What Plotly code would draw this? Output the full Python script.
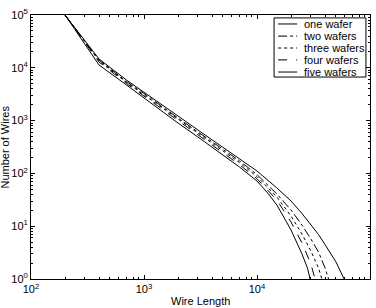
import plotly.graph_objects as go

# ---- data ----
names = ["one wafer", "two wafers", "three wafers", "four wafers", "five wafers"]

x_one = [200, 400, 700, 1000, 2000, 3000, 5000, 7000, 10000, 15000, 20000, 25000, 30000, 35000, 40000, 50000, 59000]
y_one = [100000, 14700, 5870, 3480, 1222, 664, 316, 191, 111, 52.9, 30.0, 17.4, 10.8, 6.97, 4.50, 2.10, 1.0]

x_two = [200, 400, 700, 1000, 2000, 3000, 5000, 7000, 10000, 15000, 20000, 25000, 30000, 35000, 40000, 43000]
y_two = [100000, 14050, 5500, 3260, 1120, 608, 290, 173, 95.0, 40.7, 20.3, 10.5, 5.72, 3.25, 1.62, 1.0]

x_three = [200, 400, 700, 1000, 2000, 3000, 5000, 7000, 10000, 15000, 20000, 25000, 30000, 35000, 37500]
y_three = [100000, 13450, 5270, 3053, 1049, 570, 266, 160, 87.0, 35.7, 15.6, 7.12, 3.39, 1.62, 1.0]

x_four = [200, 400, 700, 1000, 2000, 3000, 5000, 7000, 10000, 15000, 20000, 25000, 30000, 32600]
y_four = [100000, 12880, 5045, 2923, 982, 534, 243, 146, 79.0, 31.3, 12.0, 4.81, 1.92, 1.0]

x_five = [200, 400, 700, 1000, 2000, 3000, 5000, 7000, 10000, 12500, 15000, 20000, 25000, 28000, 29500]
y_five = [100000, 11300, 4722, 2680, 900, 489, 223, 132, 71.8, 42.0, 25.2, 8.47, 2.98, 1.6, 1.0]

x_tickvals = [100, 1000, 10000, 100000]
x_ticktext = ["10<sup>2</sup>", "10<sup>3</sup>", "10<sup>4</sup>", "10<sup>5</sup>"]
y_tickvals = [1, 10, 100, 1000, 10000, 100000]
y_ticktext = ["10<sup>0</sup>", "10<sup>1</sup>", "10<sup>2</sup>", "10<sup>3</sup>", "10<sup>4</sup>", "10<sup>5</sup>"]

# ---- styling ----
dashes = ["solid", "dashdot", "dot", "dash", "solid"]
FONT = "Liberation Sans, Arial, Helvetica, sans-serif"

series = [(x_one, y_one), (x_two, y_two), (x_three, y_three), (x_four, y_four), (x_five, y_five)]

fig = go.Figure()
for (xs, ys), nm, ds in zip(series, names, dashes):
    fig.add_trace(go.Scatter(x=xs, y=ys, mode="lines", name=nm,
                             line=dict(color="black", width=1, dash=ds),
                             showlegend=False))

minor_x = [m * 10 ** k for k in range(2, 5) for m in range(2, 10)]
minor_y = [m * 10 ** k for k in range(0, 5) for m in range(2, 10)]

axis_common = dict(showline=True, linecolor="black", linewidth=1, mirror="ticks",
                   ticks="inside", ticklen=4, tickcolor="black", tickwidth=1,
                   showgrid=False, zeroline=False,
                   tickfont=dict(family=FONT, size=11, color="black"))

fig.update_xaxes(type="log", range=[2, 5], tickmode="array", tickvals=x_tickvals,
                 ticktext=x_ticktext,
                 minor=dict(tickmode="array", tickvals=minor_x, ticks="inside", ticklen=2,
                            tickcolor="black", showgrid=False),
                 **axis_common)
fig.update_yaxes(type="log", range=[0, 5], tickmode="array", tickvals=y_tickvals,
                 ticktext=y_ticktext,
                 minor=dict(tickmode="array", tickvals=minor_y, ticks="inside", ticklen=2,
                            tickcolor="black", showgrid=False),
                 **axis_common)

# custom compact legend (MATLAB style)
lx0, lx1, ly0, ly1 = 0.717, 0.988, 0.765, 0.989
shapes = [dict(type="rect", xref="paper", yref="paper", x0=lx0, x1=lx1, y0=ly0, y1=ly1,
               line=dict(color="black", width=1), fillcolor="white", layer="above")]
annotations = []
row_y = [0.966, 0.920, 0.875, 0.830, 0.784]
for nm, ds, ry in zip(names, dashes, row_y):
    shapes.append(dict(type="line", xref="paper", yref="paper", x0=0.729, x1=0.785, y0=ry, y1=ry,
                       line=dict(color="black", width=1, dash=ds), layer="above"))
    annotations.append(dict(xref="paper", yref="paper", x=0.800, y=ry, text=nm, showarrow=False,
                            xanchor="left", yanchor="middle",
                            font=dict(family=FONT, size=11, color="black")))

annotations.append(dict(xref="paper", yref="paper", x=0.5, y=-0.083, text="Wire Length",
                        showarrow=False, xanchor="center", yanchor="middle",
                        font=dict(family=FONT, size=11, color="black")))
annotations.append(dict(xref="paper", yref="paper", x=-0.078, y=0.5, text="Number of Wires",
                        showarrow=False, xanchor="center", yanchor="middle", textangle=-90,
                        font=dict(family=FONT, size=11, color="black")))

fig.update_layout(width=376, height=308, margin=dict(l=31, r=6, t=15, b=29),
                  paper_bgcolor="white", plot_bgcolor="white",
                  shapes=shapes, annotations=annotations,
                  font=dict(family=FONT, size=11, color="black"))

fig.write_html("out.html")
